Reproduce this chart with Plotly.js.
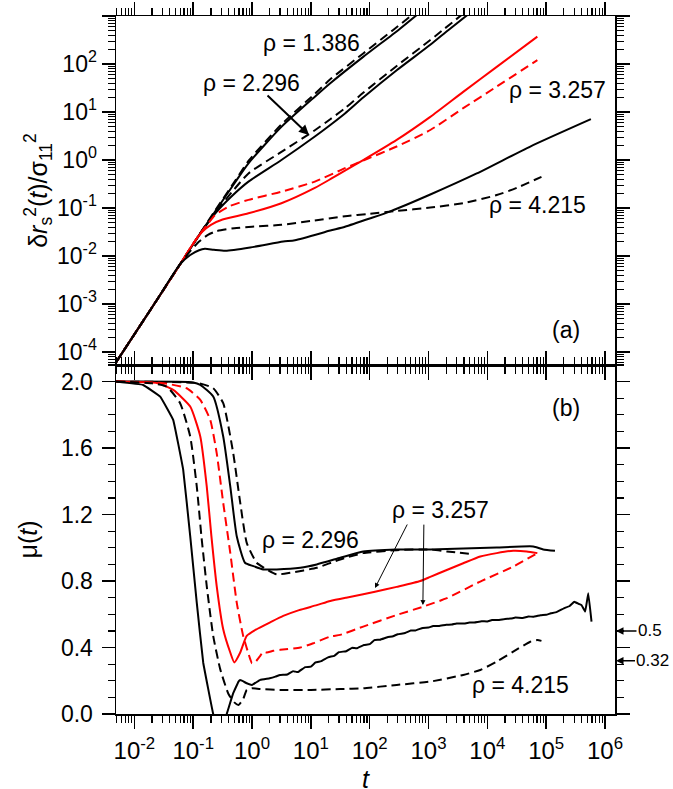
<!DOCTYPE html>
<html>
<head>
<meta charset="utf-8">
<script src="https://cdn.plot.ly/plotly-3.0.1.min.js"></script>
<style>
  html, body { margin: 0; padding: 0; background: #fff; }
  #chart { width: 673px; height: 789px; }
</style>
</head>
<body>
<div id="chart"></div>
<script>
// panel (a): mean square displacement
const tA1386s = [0.0049, 0.024, 0.060, 0.126, 0.234, 0.50, 0.87, 3.16, 11.7, 21.4, 77.6, 309, 631];
const yA1386s = [6.17e-5, 1.2e-3, 6.76e-3, 0.0275, 0.0832, 0.324, 0.851, 4.90, 20.9, 39.8, 141, 513, 1047];
const tA1386d = [0.0049, 0.024, 0.060, 0.126, 0.234, 0.50, 0.87, 3.16, 11.7, 21.4, 77.6, 251, 525];
const yA1386d = [6.17e-5, 1.2e-3, 6.76e-3, 0.0275, 0.0871, 0.347, 0.955, 5.50, 24.0, 47.9, 166, 513, 1047];

const tA2296s = [0.0049, 0.024, 0.060, 0.126, 0.234, 0.447, 0.87, 3.16, 11.7, 21.4, 38, 77.6, 288, 1072, 2188, 4571];
const yA2296s = [6.17e-5, 1.2e-3, 6.76e-3, 0.0269, 0.0759, 0.174, 0.355, 1.0, 3.09, 5.37, 9.33, 20.0, 74.1, 251, 513, 1047];
const tA2296d = [0.0049, 0.024, 0.060, 0.126, 0.234, 0.447, 0.87, 3.16, 11.7, 21.4, 38, 77.6, 288, 1072, 3631];
const yA2296d = [6.17e-5, 1.2e-3, 6.76e-3, 0.0275, 0.0794, 0.209, 0.525, 1.48, 4.17, 7.08, 12.0, 25.1, 91.2, 316, 1047];

const tA3257s = [0.0049, 0.024, 0.060, 0.10, 0.141, 0.20, 0.316, 0.87, 3.16, 11.7, 21.4, 38, 77.6, 288, 1072, 3890, 14450, 70800];
const yA3257s = [6.17e-5, 1.2e-3, 6.76e-3, 0.0182, 0.0316, 0.0447, 0.0575, 0.0776, 0.126, 0.263, 0.398, 0.603, 1.0, 2.63, 7.94, 26.3, 87.1, 372];
const tA3257d = [0.0049, 0.024, 0.060, 0.126, 0.178, 0.234, 0.398, 0.87, 3.16, 11.7, 38, 77.6, 288, 1072, 3890, 14450, 70800];
const yA3257d = [6.17e-5, 1.2e-3, 6.76e-3, 0.0275, 0.0468, 0.0708, 0.107, 0.148, 0.219, 0.355, 0.676, 0.977, 1.91, 4.22, 12.0, 33.9, 120];

const tA4215s = [0.0049, 0.024, 0.060, 0.089, 0.126, 0.158, 0.224, 0.355, 0.93, 3.39, 5.37, 21.4, 38, 100, 224, 1072, 6607, 53700, 575400];
const yA4215s = [6.17e-5, 1.2e-3, 6.76e-3, 0.0105, 0.0132, 0.0141, 0.0135, 0.0129, 0.0151, 0.0200, 0.0214, 0.0339, 0.0407, 0.0603, 0.0851, 0.191, 0.525, 1.91, 7.08];
const tA4215d = [0.0049, 0.024, 0.060, 0.089, 0.126, 0.178, 0.251, 0.50, 1.0, 3.16, 10, 38, 100, 288, 1072, 3890, 14450, 31620, 83180];
const yA4215d = [6.17e-5, 1.2e-3, 6.76e-3, 0.0126, 0.0200, 0.0275, 0.0331, 0.0380, 0.0407, 0.0447, 0.0537, 0.0676, 0.0759, 0.0871, 0.102, 0.126, 0.186, 0.263, 0.447];

// panel (b): mu(t)
const tB2296s = [0.0049, 0.10, 0.132, 0.219, 0.324, 0.427, 0.55, 0.759, 1.05, 1.55, 2.63, 6.61, 12.6, 31.6, 77.6, 288, 1072, 3890, 14450, 60260, 89130, 141300];
const muB2296s = [2.0, 1.995, 1.98, 1.91, 1.67, 1.37, 1.07, 0.91, 0.89, 0.87, 0.87, 0.88, 0.90, 0.94, 0.978, 0.99, 0.99, 0.996, 1.002, 1.008, 0.99, 0.982];
const tB2296d = [0.0049, 0.126, 0.219, 0.324, 0.479, 0.631, 0.813, 1.2, 1.78, 2.63, 4.47, 12.6, 31.6, 77.6, 288, 1072, 2042, 5754];
const muB2296d = [2.0, 1.99, 1.96, 1.87, 1.57, 1.27, 1.03, 0.91, 0.87, 0.84, 0.85, 0.88, 0.93, 0.968, 0.986, 0.99, 0.978, 0.962];

const tB3257s = [0.0049, 0.025, 0.0457, 0.089, 0.132, 0.17, 0.204, 0.251, 0.324, 0.427, 0.50, 0.631, 0.813, 1.2, 2.0, 3.39, 6.31, 12.6, 21.4, 39.8, 77.6, 123, 288, 724, 1072, 1995, 3890, 7586, 14450, 27540, 46770, 70800];
const muB3257s = [2.0, 1.99, 1.95, 1.85, 1.67, 1.37, 1.07, 0.77, 0.51, 0.37, 0.31, 0.37, 0.47, 0.51, 0.55, 0.59, 0.625, 0.655, 0.68, 0.70, 0.72, 0.735, 0.765, 0.80, 0.825, 0.865, 0.907, 0.948, 0.968, 0.982, 0.978, 0.968];
const tB3257d = [0.0049, 0.0316, 0.0776, 0.132, 0.195, 0.251, 0.324, 0.427, 0.55, 0.708, 0.933, 1.0, 1.12, 1.38, 1.55, 1.78, 2.29, 3.02, 6.61, 11.0, 21.4, 31.6, 77.6, 288, 813, 2042, 7586, 27540, 70800];
const muB3257d = [2.0, 1.99, 1.96, 1.89, 1.77, 1.57, 1.27, 0.97, 0.67, 0.47, 0.33, 0.305, 0.31, 0.35, 0.375, 0.37, 0.38, 0.386, 0.40, 0.426, 0.466, 0.476, 0.526, 0.596, 0.646, 0.697, 0.797, 0.887, 0.968];

const tB4215s = [0.0049, 0.0141, 0.0275, 0.0457, 0.0676, 0.089, 0.115, 0.148, 0.219, 0.282, 0.372, 0.479, 0.589, 0.631, 0.813, 1.0, 1.38,
  2.0, 2.5, 3, 4, 5, 6, 8, 10, 12, 15, 20, 25, 30, 40, 50, 60, 80, 100, 120, 150, 200, 250, 300, 400, 500, 600, 800,
  1000, 1200, 1500, 2000, 2500, 3000, 4000, 5000, 6000, 8000, 1e4, 1.2e4, 1.5e4, 2e4, 2.5e4, 3e4, 4e4, 5e4, 6e4, 8e4,
  1e5, 1.2e5, 1.5e5, 2e5, 2.5e5, 3e5, 3.6e5, 4e5, 4.6e5, 5.2e5, 5.9e5];
const muB4215s = [2.0, 1.98, 1.91, 1.77, 1.47, 1.07, 0.67, 0.31, 0.0, -0.12, 0.0, 0.125, 0.195, 0.205, 0.185, 0.175, 0.205,
  0.215, 0.225, 0.235, 0.238, 0.258, 0.252, 0.282, 0.285, 0.31, 0.318, 0.342, 0.35, 0.372, 0.378, 0.398, 0.395, 0.415, 0.42, 0.445, 0.447, 0.462, 0.468, 0.48, 0.487, 0.502, 0.503, 0.518,
  0.52, 0.53, 0.529, 0.537, 0.538, 0.545, 0.544, 0.55, 0.551, 0.558, 0.557, 0.566, 0.565, 0.572, 0.574, 0.58, 0.578, 0.587, 0.585, 0.594,
  0.597, 0.606, 0.613, 0.636, 0.65, 0.675, 0.662, 0.655, 0.616, 0.727, 0.556];
const tB4215d = [0.0049, 0.020, 0.0355, 0.060, 0.089, 0.115, 0.138, 0.17, 0.219, 0.288, 0.398, 0.50, 0.589, 0.708, 0.813, 1.0, 1.38, 3.02, 10, 31.6, 77.6, 288, 1072, 3890, 7586, 14450, 27540, 53700, 70800, 83180];
const muB4215d = [2.0, 1.99, 1.97, 1.87, 1.67, 1.37, 1.07, 0.77, 0.47, 0.27, 0.12, 0.07, 0.054, 0.09, 0.145, 0.155, 0.15, 0.145, 0.145, 0.15, 0.155, 0.175, 0.195, 0.235, 0.265, 0.315, 0.375, 0.435, 0.445, 0.44];

const decades = [1e-2, 1e-1, 1, 10, 100, 1e3, 1e4, 1e5, 1e6];
const decadeLabels = ["10<sup>-2</sup>", "10<sup>-1</sup>", "10<sup>0</sup>", "10<sup>1</sup>", "10<sup>2</sup>",
  "10<sup>3</sup>", "10<sup>4</sup>", "10<sup>5</sup>", "10<sup>6</sup>"];
const yDecades = [1e-4, 1e-3, 1e-2, 1e-1, 1, 10, 100, 1e3];
const yDecadeLabels = ["10<sup>-4</sup>", "10<sup>-3</sup>", "10<sup>-2</sup>", "10<sup>-1</sup>", "10<sup>0</sup>",
  "10<sup>1</sup>", "10<sup>2</sup>", "10<sup>3</sup>"];

function minorLog(lo, hi) {
  const v = [];
  for (let e = lo; e <= hi; e++) for (let k = 2; k <= 9; k++) v.push(k * Math.pow(10, e));
  return v;
}

const RED = "#ff0000";
const BLK = "#000000";
const DASH = "9px,5px";

function line(x, y, color, dashed, xa, ya, smooth) {
  return {
    x, y, xaxis: xa, yaxis: ya, type: "scatter", mode: "lines",
    line: { color, width: 2, dash: dashed ? DASH : "solid", shape: "spline", smoothing: smooth },
    hoverinfo: "skip", showlegend: false,
  };
}

const traces = [
  line(tA1386s, yA1386s, BLK, false, "x", "y", 0.6),
  line(tA1386d, yA1386d, BLK, true, "x", "y", 0.6),
  line(tA2296s, yA2296s, BLK, false, "x", "y", 0.6),
  line(tA2296d, yA2296d, BLK, true, "x", "y", 0.6),
  line(tA3257s, yA3257s, RED, false, "x", "y", 0.6),
  line(tA3257d, yA3257d, RED, true, "x", "y", 0.6),
  line(tA4215s, yA4215s, BLK, false, "x", "y", 0.6),
  line(tA4215d, yA4215d, BLK, true, "x", "y", 0.6),
  line(tB2296s, muB2296s, BLK, false, "x2", "y2", 0.5),
  line(tB2296d, muB2296d, BLK, true, "x2", "y2", 0.5),
  line(tB3257s, muB3257s, RED, false, "x2", "y2", 0.5),
  line(tB3257d, muB3257d, RED, true, "x2", "y2", 0.5),
  line(tB4215s, muB4215s, BLK, false, "x2", "y2", 0.2),
  line(tB4215d, muB4215d, BLK, true, "x2", "y2", 0.5),
];

const FONT = { family: "Liberation Sans, Arial, Helvetica, sans-serif", color: "#000", size: 23 };
const LBL = { ...FONT, size: 23 };

const axisCommon = {
  showgrid: false, zeroline: false, showline: true, linecolor: "#000", linewidth: 1.5,
  mirror: "allticks", ticks: "outside", ticklen: 13, tickwidth: 1.5, tickcolor: "#000",
};
const xCommon = {
  ...axisCommon, type: "log", range: [-2.312, 6.17],
  tickmode: "array", tickvals: decades, ticktext: decadeLabels,
  tickfont: { ...FONT, size: 24 }, ticklabelstandoff: 2,
  minor: { tickmode: "array", tickvals: minorLog(-3, 6), ticks: "outside", ticklen: 7, tickwidth: 1.2, tickcolor: "#000" },
};

function label(x, y, text) {
  return { xref: "paper", yref: "paper", x, y, text, showarrow: false, xanchor: "center", yanchor: "middle", font: LBL };
}
function pointer(x, y, ax, ay, w) {
  return { xref: "paper", yref: "paper", x, y, text: "", showarrow: true, ax, ay,
    arrowhead: 2, arrowsize: 1, arrowwidth: w, arrowcolor: "#000" };
}

const layout = {
  width: 673, height: 789,
  paper_bgcolor: "#fff", plot_bgcolor: "#fff",
  font: FONT,
  margin: { l: 116, r: 58, t: 16, b: 75 },
  showlegend: false,
  xaxis: { ...xCommon, anchor: "y", showticklabels: false },
  xaxis2: { ...xCommon, anchor: "y2" },
  yaxis: {
    ...axisCommon, type: "log", range: [-4.27, 3.0], domain: [0.5, 1], anchor: "x",
    tickmode: "array", tickvals: yDecades, ticktext: yDecadeLabels,
    minor: { tickmode: "array", tickvals: minorLog(-5, 2), ticks: "outside", ticklen: 7, tickwidth: 1.2, tickcolor: "#000" },
    title: { text: "δ<i>r</i><sub>s</sub><sup>2</sup>(<i>t</i>)/σ<sub>11</sub><sup>2</sup>", font: { ...FONT, size: 25 }, standoff: 2 },
  },
  yaxis2: {
    ...axisCommon, range: [0, 2.1], domain: [0, 0.5], anchor: "x2",
    tickmode: "linear", tick0: 0, dtick: 0.4, tickformat: ".1f", ticklabelstandoff: 4,
    minor: { dtick: 0.1, ticks: "outside", ticklen: 7, tickwidth: 1.2, tickcolor: "#000" },
    title: { text: "μ(<i>t</i>)", font: { ...FONT, size: 25 }, standoff: 16 },
  },
  annotations: [
    // x axis title, placed by hand below the tick labels
    { xref: "paper", yref: "paper", x: 0.5, y: -0.093, text: "<i>t</i>", showarrow: false,
      xanchor: "center", yanchor: "middle", font: { ...FONT, size: 25 } },
    label(0.391, 0.961, "ρ = 1.386"),
    label(0.2725, 0.904, "ρ = 2.296"),
    pointer(0.3868, 0.8295, -43, -41, 2),
    label(0.884, 0.894, "ρ = 3.257"),
    label(0.8437, 0.729, "ρ = 4.215"),
    label(0.902, 0.550, "(a)"),
    label(0.902, 0.438, "(b)"),
    label(0.389, 0.249, "ρ = 2.296"),
    label(0.651, 0.292, "ρ = 3.257"),
    pointer(0.519, 0.1805, 33, -65, 1),
    pointer(0.615, 0.156, 1, -82, 1),
    label(0.8116, 0.0415, "ρ = 4.215"),
    { xref: "paper", yref: "y2", x: 1.002, y: 0.5, text: "0.5", showarrow: true, ax: 34, ay: 0,
      arrowhead: 2, arrowsize: 1, arrowwidth: 1.5, arrowcolor: "#000", font: { ...FONT, size: 17 } },
    { xref: "paper", yref: "y2", x: 1.002, y: 0.32, text: "0.32", showarrow: true, ax: 37, ay: 0,
      arrowhead: 2, arrowsize: 1, arrowwidth: 1.5, arrowcolor: "#000", font: { ...FONT, size: 17 } },
  ],
};

Plotly.newPlot("chart", traces, layout, { displayModeBar: false, staticPlot: true });
</script>
</body>
</html>
